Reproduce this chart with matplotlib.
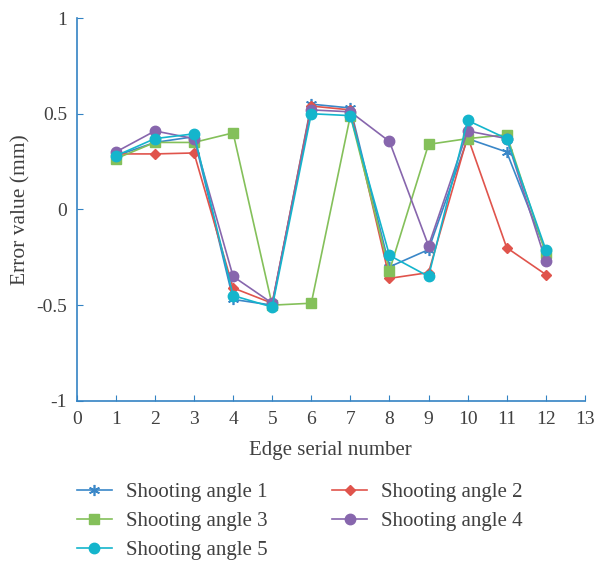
import numpy as np
import matplotlib.pyplot as plt

plt.rcParams["font.family"] = ["Liberation Serif", "DejaVu Serif"]
plt.rcParams["axes.unicode_minus"] = False

# Data
edges = [1, 2, 3, 4, 5, 6, 7, 8, 9, 10, 11, 12]
angle1 = [0.28, 0.35, 0.38, -0.47, -0.50, 0.55, 0.53, -0.30, -0.21, 0.37, 0.30, -0.22]
angle2 = [0.29, 0.29, 0.295, -0.41, -0.49, 0.54, 0.52, -0.36, -0.33, 0.38, -0.20, -0.34]
angle3 = [0.265, 0.35, 0.35, 0.40, -0.50, -0.49, 0.49, -0.32, 0.34, 0.37, 0.39, -0.23]
angle4 = [0.30, 0.41, 0.37, -0.35, -0.49, 0.52, 0.51, 0.355, -0.19, 0.41, 0.37, -0.27]
angle5 = [0.28, 0.37, 0.395, -0.45, -0.51, 0.50, 0.49, -0.24, -0.35, 0.465, 0.37, -0.21]
labels = ["Shooting angle 1", "Shooting angle 2", "Shooting angle 3",
          "Shooting angle 4", "Shooting angle 5"]
yticks = [-1, -0.5, 0, 0.5, 1]
ytick_labels = ["-1", "-0.5", "0", "0.5", "1"]

text_col = "#404040"
spine_col = "#3383c4"

fig = plt.figure(figsize=(5.95, 5.63), dpi=100)
ax = fig.add_axes([0.129, 0.288, 0.854, 0.68])

# asterisk marker for angle 1
h1, = ax.plot(edges, angle1, color="#3a87c8", marker=(6, 2, 0), markersize=8, lw=1.2, mew=1.2, label=labels[0])
h2, = ax.plot(edges, angle2, color="#e0544c", marker="D", markersize=5, lw=1.2, label=labels[1])
h3, = ax.plot(edges, angle3, color="#84c05a", marker="s", markersize=7, lw=1.2, label=labels[2])
h4, = ax.plot(edges, angle4, color="#8766ad", marker="o", markersize=7.5, lw=1.2, label=labels[3])
h5, = ax.plot(edges, angle5, color="#14b5cc", marker="o", markersize=7.5, lw=1.2, label=labels[4])

ax.set_xlim(0, 13)
ax.set_ylim(-1, 1)
ax.set_xticks(range(0, 14))
ax.set_yticks(yticks)
ax.set_yticklabels(ytick_labels)

for side in ["top", "right"]:
    ax.spines[side].set_visible(False)
for side in ["left", "bottom"]:
    ax.spines[side].set_color(spine_col)
    ax.spines[side].set_linewidth(1.2)
ax.tick_params(direction="in", colors=spine_col, labelcolor=text_col,
               labelsize=14, length=4, pad=7)

ax.set_xlabel("Edge serial number", fontsize=15, color=text_col, labelpad=10)
ax.set_ylabel("Error value (mm)", fontsize=15.5, color=text_col, labelpad=4)

fig.legend([h1, h3, h5, h2, h4], [labels[0], labels[2], labels[4], labels[1], labels[3]],
           ncol=2, frameon=False, fontsize=15, labelcolor=text_col,
           loc="upper left", bbox_to_anchor=(0.1294, 0.143), borderpad=0,
           borderaxespad=0, handlelength=1.68, handletextpad=0.67,
           columnspacing=3.1, labelspacing=0.46)

fig.savefig("out.png", dpi=100)
